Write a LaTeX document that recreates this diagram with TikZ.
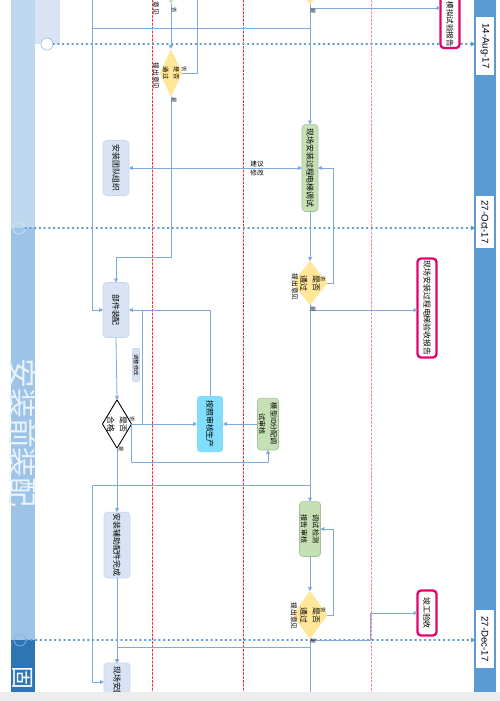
\documentclass[tikz,border=0pt]{standalone}
\usepackage{xcolor}
\usepackage{tikz}
\usepackage{fontspec}
\setmainfont{Liberation Sans}
\newfontfamily\cjk{Noto Sans CJK SC}
\usetikzlibrary{calc,shapes.geometric,arrows.meta}

\definecolor{lanetop}{HTML}{BDD7EE}
\definecolor{lanemid}{HTML}{9DC3E6}
\definecolor{lanedark}{HTML}{2E75B6}
\definecolor{lanepale}{HTML}{DAE3F3}
\definecolor{barblue}{HTML}{5B9BD5}
\definecolor{flowline}{HTML}{7EA9DA}
\definecolor{procfill}{HTML}{DAE3F3}
\definecolor{testfill}{HTML}{C5E0B4}
\definecolor{decfill}{HTML}{FFE699}
\definecolor{prodfill}{HTML}{80DDFB}
\definecolor{reportred}{HTML}{E6006E}

% 竖排文字（整图顺时针转 90 度）
\newcommand{\vtext}[1]{\rotatebox{-90}{#1}}

\begin{document}
\begin{tikzpicture}[x=0.02cm, y=-0.02cm, line cap=round, line join=round,
	every node/.style={inner sep=0pt, outer sep=0pt},
	boxtext/.style={font=\cjk\fontsize{4.5}{5.2}\selectfont},
	proc/.style={boxtext, rectangle, rounded corners=1.8pt, fill=procfill, draw=procfill!85!barblue, line width=0.3pt},
	testbox/.style={boxtext, rectangle, rounded corners=1.8pt, fill=testfill, draw=testfill!85!black, line width=0.3pt},
	prodbox/.style={boxtext, rectangle, rounded corners=1.8pt, fill=prodfill},
	decide/.style={boxtext, diamond, fill=decfill, aspect=0.8},
	report/.style={boxtext, rectangle, rounded corners=2pt, draw=reportred, line width=1.3pt, fill=white},
	datebox/.style={rectangle, fill=white, font=\fontsize{5.5}{6}\selectfont},
	yesno/.style={font=\cjk\fontsize{3}{3}\selectfont},
	hint/.style={font=\cjk\fontsize{3.8}{4.2}\selectfont},
	flow/.style={draw=flowline, line width=0.45pt, -{Triangle[length=2.2pt,width=2.2pt]}},
	flowboth/.style={flow, {Triangle[length=2.2pt,width=2.2pt]}-{Triangle[length=2.2pt,width=2.2pt]}},
	rail/.style={draw=flowline, line width=0.45pt},
	milestone/.style={draw=barblue, dotted, line width=0.7pt, -{Triangle[length=2.5pt,width=2.5pt]}},
	timeline/.style={draw=red!85, dash pattern=on 1.2pt off 1pt, line width=0.4pt}]
	
	%====================
	% 1) 背景：泳道色带与右侧日期条
	%====================
	\fill[white] (0,0) rectangle (500,701);
	\clip (0,0) rectangle (500,701);
	\fill[lanetop]  (11,0)   rectangle (35,228);
	\fill[lanemid]  (11,228) rectangle (35,640);
	\fill[lanedark] (11,640) rectangle (35,692);
	\fill[lanepale] (35,0)   rectangle (60,44);
	\fill[barblue]  (474,0)  rectangle (496,692);
	
	% 阶段名称
	\node[font=\cjk\fontsize{17}{17}\selectfont, text=white!80!lanemid] (stage) at (23,433) {\vtext{安装前装配}};
	\node[anchor=north, font=\cjk\fontsize{13}{13}\selectfont, text=white] (nextstage) at (23,666) {\vtext{固}};
	
	% 红色时间虚线
	\foreach \x in {152,243} \draw[timeline] (\x,0) -- (\x,692);
	\draw[timeline, draw=red!50, line width=0.3pt] (371,0) -- (371,692);
	
	%====================
	% 2) 日期节点与里程碑虚线
	%====================
	\node[datebox, minimum width=0.38cm, minimum height=1.16cm] (d1) at (485,46)  {\vtext{14-Aug-17}};
	\node[datebox, minimum width=0.38cm, minimum height=1.04cm] (d2) at (485,222) {\vtext{27-Oct-17}};
	\node[datebox, minimum width=0.38cm, minimum height=1.16cm] (d3) at (485,639) {\vtext{27-Dec-17}};
	
	\node[circle, draw=lanemid, fill=white, minimum size=0.24cm] (m1) at (47,44) {};
	\node[circle, draw=white!55!lanemid, minimum size=0.24cm] (m2) at (19,228) {};
	\node[circle, draw=white!45!lanedark, minimum size=0.24cm] (m3) at (20,640) {};
	
	\draw[milestone] (m1) -- (m1 -| d1.west);
	\draw[milestone] (m2) -- (m2 -| d2.west);
	\draw[milestone] (m3) -- (m3 -| d3.west);
	
	%====================
	% 3) 左列：装配流程
	%====================
	\node[proc, minimum width=0.52cm, minimum height=1.1cm]  (team)  at (116,168) {\vtext{安装团队组织}};
	\node[proc, minimum width=0.52cm, minimum height=1.1cm]  (parts) at (116,310) {\vtext{部件装配}};
	\node[boxtext, diamond, draw=black, fill=white, line width=0.5pt, aspect=0.6,
	      minimum width=0.48cm, minimum height=0.94cm] (check) at (117,424) {\vtext{\shortstack{是否\\合格}}};
	\node[proc, minimum width=0.52cm, minimum height=1.32cm] (aux)   at (117,545) {\vtext{安装辅助配件完成}};
	\node[proc, anchor=north, minimum width=0.52cm, minimum height=0.76cm] (site) at (117,663) {\vtext{现场安装}};
	\node[proc, font=\cjk\fontsize{3}{3}\selectfont, rounded corners=0.5pt,
	      minimum width=0.14cm, minimum height=0.66cm] (note) at (136,365) {\vtext{调整修改}};
	
	% 上方两个判断
	\node[decide, fill=testfill, minimum width=0.44cm, minimum height=0.9cm] (gdec) at (171,-18) {};
	\node[decide, font=\cjk\fontsize{3.5}{3.8}\selectfont, aspect=0.5,
	      minimum width=0.44cm, minimum height=0.96cm] (cdec) at (171,73) {\vtext{\shortstack{是否\\通过}}};
	\node[hint] (gnote) at (156,8) {\vtext{意见}};
	\node[hint] (cnote) at (156,76) {\vtext{提出意见}};
	
	%====================
	% 4) 中间：生产与模型审核
	%====================
	\node[prodbox, minimum width=0.52cm, minimum height=1.12cm] (produce) at (210,424) {\vtext{按照审核生产}};
	\node[testbox, font=\cjk\fontsize{4}{4.6}\selectfont,
	      minimum width=0.42cm, minimum height=1.04cm] (model) at (268,424) {\vtext{\shortstack{模型ID分配调\\试审核}}};
	
	%====================
	% 5) 主列：现场调试与验收
	%====================
	\node[decide, minimum width=0.7cm, minimum height=0.9cm] (topdec) at (310,-18) {};
	\node[testbox, minimum width=0.32cm, minimum height=1.74cm] (setup)   at (310,168) {\vtext{现场安装过程电梯调试}};
	\node[decide, minimum width=0.7cm, minimum height=0.88cm]  (pass1)   at (310,283) {\vtext{\shortstack{是否\\通过}}};
	\node[testbox, font=\cjk\fontsize{4}{4.6}\selectfont,
	      minimum width=0.42cm, minimum height=1.1cm]  (inspect) at (310,529) {\vtext{\shortstack{调试检测\\报告审核}}};
	\node[decide, minimum width=0.7cm, minimum height=0.96cm]  (pass2)   at (310,615) {\vtext{\shortstack{是否\\通过}}};
	\node[hint] (pnote1) at (295,287) {\vtext{提出意见}};
	\node[hint] (pnote2) at (294,616) {\vtext{提出意见}};
	
	% 右列报告
	\node[report, font=\cjk\fontsize{4.3}{5}\selectfont, minimum width=0.38cm, minimum height=1.2cm]
	      (rep1) at (450,18) {\vtext{\hspace*{7pt}模拟试验报告}};
	\node[report, minimum width=0.38cm, minimum height=1.98cm] (rep2) at (427,308) {\vtext{现场安装过程电梯验收报告}};
	\node[report, minimum width=0.38cm, minimum height=0.9cm]  (rep3) at (427,613) {\vtext{竣工验收}};
	
	%====================
	% 6) 连线
	%====================
	\coordinate (railtop) at (92,0);
	\coordinate (cback)   at (197,0);
	\coordinate (t1) at (310,8);
	\coordinate (j1) at (310,28);
	\coordinate (t2) at (310,310);
	\coordinate (j2) at (310,485);
	\coordinate (t3) at (310,640);
	\coordinate (j3) at (310,647);
	\coordinate (k1) at (142,424);
	\coordinate (mainend) at (310,701);
	
	% 主列
	\draw[flow] (topdec.south) -- (setup.north);
	\draw[flow] (t1) -- (t1 -| rep1.west);
	\draw[flow] (setup.south) -- (pass1.north);
	\draw[flow] (pass1.east) -- ++(6,0) |- (setup.east);
	\draw[flow] (t2) -- (t2 -| rep2.west);
	\draw[flow] (pass1.south) -- (inspect.north);
	\draw[flow] (inspect.south) -- (pass2.north);
	\draw[flow] (pass2.east) -- ++(6,0) |- (inspect.east);
	\draw[flow] (t3) -- ++(60,0) |- (rep3.west);
	\draw[rail] (pass2.south) -- (mainend);
	
	% 左侧回线
	\draw[rail] (railtop) -- (j1 -| railtop);
	\draw[flow] (j1) -- (j1 -| railtop) |- (parts.west);
	\draw[flow] (j2) -- (j2 -| railtop) |- (site.west);
	\draw[flow] (j3) -| (site.north);
	
	% 团队与调试
	\draw[flowboth] (team) -- (setup)
		node[pos=0.74, above=0.8pt, hint] (sugg) {建议}
		node[pos=0.74, below=0.8pt, hint] (chg) {修改};
	
	% 左列
	\draw[flow] (gdec.south) -- (cdec.north);
	\draw[rail] (cdec.east) -| (cback);
	\draw[flow] (cdec.south) -- ++(0,160) -| (parts.north);
	\draw[flow] (parts.south) -- (check.north);
	\draw[flow] (check.south) -- (aux.north);
	\draw[flow] (aux.south) -- (site.north);
	\draw[flow] (check.east) -- (produce.west);
	\draw[rail] (k1) -- (k1 |- parts.east);
	\draw[flow] (produce.north) |- (parts.east);
	\draw[flow] (model.west) -- (produce.east);
	\draw[flow] (check.east) -- ++(0,38) -| (model.south);
	
	%====================
	% 7) 是 / 否 标注
	%====================
	\node[yesno] (y0) at (313,11)  {\vtext{是}};
	\node[yesno] (n0) at (174,10)  {\vtext{否}};
	\node[yesno] (n1) at (184,69)  {\vtext{否}};
	\node[yesno] (y1) at (174,100) {\vtext{是}};
	\node[yesno] (n2) at (323,279) {\vtext{否}};
	\node[yesno] (y2) at (313,309) {\vtext{是}};
	\node[yesno] (n3) at (323,610) {\vtext{否}};
	\node[yesno] (y3) at (313,641) {\vtext{是}};
	\node[yesno] (n4) at (132,419) {\vtext{否}};
	\node[yesno] (y4) at (121,449) {\vtext{是}};
	
	% 底部灰边（截图下沿）
	\fill[black!7] (0,692) rectangle (500,701);
	
\end{tikzpicture}
\end{document}
